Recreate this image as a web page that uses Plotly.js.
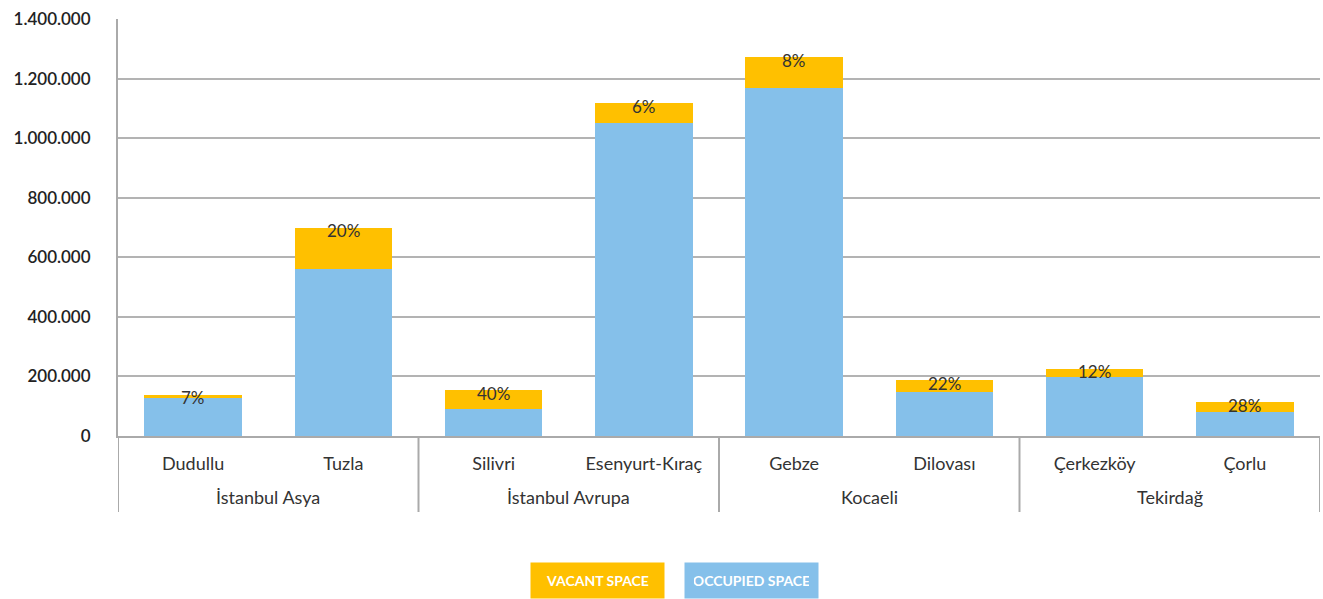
<!DOCTYPE html>
<html><head><meta charset="utf-8">
<script src="https://cdn.plot.ly/plotly-3.0.1.min.js"></script>
<style>html,body{margin:0;padding:0;background:#fff}#chart{width:1323px;height:599px}</style>
</head><body><div id="chart"></div>
<script>
const regions = ["İstanbul Asya","İstanbul Avrupa","Kocaeli","Tekirdağ"];
const regionOf = ["İstanbul Asya","İstanbul Asya","İstanbul Avrupa","İstanbul Avrupa","Kocaeli","Kocaeli","Tekirdağ","Tekirdağ"];
const locations = ["Dudullu","Tuzla","Silivri","Esenyurt-Kıraç","Gebze","Dilovası","Çerkezköy","Çorlu"];
const occupied = [128000, 560000, 92000, 1050000, 1170000, 147000, 198000, 80000];
const vacant = [10000, 140000, 61000, 67000, 102000, 41000, 27000, 33000];
const vacancyLabels = ["7%","20%","40%","6%","8%","22%","12%","28%"];
const yTicks = [0,200000,400000,600000,800000,1000000,1200000,1400000];

const fontFam = "Lato, 'Open Sans', sans-serif";
const lineCol = '#AAAAAA';
const traces = [
  {type:'bar', name:'OCCUPIED SPACE', x:locations, y:occupied, marker:{color:'#85C0EA'}, hoverinfo:'y'},
  {type:'bar', name:'VACANT SPACE', x:locations, y:vacant, marker:{color:'#FFC000'}, hoverinfo:'y'}
];
const annotations = locations.map((loc,i)=>({
  x:loc, y: occupied[i]+vacant[i], xref:'x', yref:'y',
  text: vacancyLabels[i], showarrow:false, yanchor:'middle', yshift:-3,
  font:{family:fontFam, size:17, color:'#333'}
}));
regions.forEach(r=>{
  const idx = regionOf.map((g,i)=>g===r?i:-1).filter(i=>i>=0);
  const c = (idx[0]+idx[idx.length-1])/2;
  annotations.push({x:c, y:-(497-436)/417, xref:'x', yref:'paper', text:r, showarrow:false,
    yanchor:'middle', font:{family:fontFam, size:18, color:'#333'}});
});
const legFont = {family:"Lato, sans-serif", size:14, color:'#fff'};
annotations.push(
  {xref:'paper', yref:'paper', x:(597-118)/1202, y:-(580-436)/417, text:'<b>VACANT SPACE</b>', showarrow:false,
   bgcolor:'#FFC000', font:legFont, borderpad:9, xanchor:'center', yanchor:'middle', width:115},
  {xref:'paper', yref:'paper', x:(751-118)/1202, y:-(580-436)/417, text:'<b>OCCUPIED SPACE</b>', showarrow:false,
   bgcolor:'#85C0EA', font:legFont, borderpad:9, xanchor:'center', yanchor:'middle', width:115}
);
const bounds = [];
regionOf.forEach((g,i)=>{ if(i===0 || regionOf[i-1]!==g) bounds.push(i-0.5); });
bounds.push(regionOf.length-0.5);
const shapes = bounds.map(b=>({type:'line', xref:'x', yref:'paper', x0:b, x1:b, y0:0, y1:-(512-436)/417,
  line:{color:lineCol, width:2}}));
const layout = {
  width:1323, height:599,
  margin:{l:118, r:3, t:19, b:163},
  barmode:'stack', bargap:0.35,
  showlegend:false,
  separators:',.',
  paper_bgcolor:'#fff', plot_bgcolor:'#fff',
  font:{family:fontFam, color:'#333'},
  xaxis:{type:'category', tickfont:{size:18, color:'#333'}, showline:true, linecolor:lineCol, linewidth:2,
         ticks:'', showgrid:false, ticklabelstandoff:10, range:[-0.5,7.5]},
  yaxis:{range:[0,1400000], tickvals:yTicks, tickformat:',d', showgrid:true, gridcolor:'#B3B3B3', gridwidth:2,
         showline:true, linecolor:lineCol, linewidth:2, zeroline:false, ticks:'', ticklabelstandoff:22,
         tickfont:{size:17, color:'#222', weight:600}},
  annotations: annotations,
  shapes: shapes
};
Plotly.newPlot('chart', traces, layout, {displayModeBar:false, staticPlot:true});
</script></body></html>
